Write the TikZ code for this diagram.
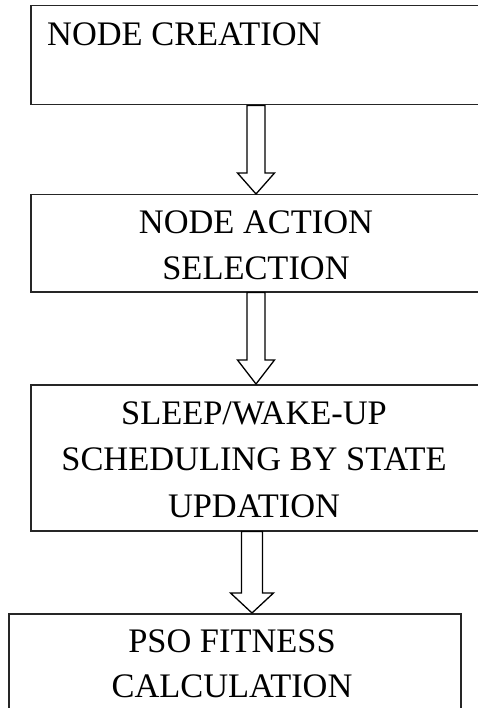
\documentclass[tikz,border=0pt]{standalone}
\usepackage{fontspec}
\setmainfont{Liberation Serif}
\usetikzlibrary{calc}
\tikzset{
  box/.style={draw=black!85, line width=1.5pt, fill=none, inner sep=0pt, anchor=north west},
  lbl/.style={inner sep=0pt, anchor=base, font=\fontsize{34.4}{45}\selectfont},
  blockarr/.style={draw=black, line width=1.3pt, fill=white, line join=miter}
}
\newcommand\hollowarrow[6]{% from, to, x, shaft half, head half, head length
  \draw[blockarr] let \p1=(#1.south), \p2=(#2.north) in
    ({#3pt-#4pt},\y1) -- ({#3pt-#4pt},{\y2+#6pt}) -- ({#3pt-#5pt},{\y2+#6pt})
    -- (#3pt,\y2) -- ({#3pt+#5pt},{\y2+#6pt}) -- ({#3pt+#4pt},{\y2+#6pt})
    -- ({#3pt+#4pt},\y1) -- cycle;
}
\begin{document}
\begin{tikzpicture}[x=1pt,y=-1pt]
\fill[white] (0,0) rectangle (477,708);
\useasboundingbox (0,0) rectangle (477,708);
\node[box, minimum width=470pt, minimum height=99pt] (b1) at (30,5) {};
\node[box, minimum width=470pt, minimum height=97pt] (b2) at (30,194) {};
\node[box, minimum width=470pt, minimum height=146pt] (b3) at (30,384) {};
\node[box, minimum width=452pt, minimum height=120pt] (b4) at (8,613) {};
\node[lbl, anchor=base west] (t1) at (47,46) {NODE CREATION};
\node[lbl] (t2a) at (256,234) {NODE ACTION};
\node[lbl] (t2b) at (256,279) {SELECTION};
\node[lbl] (t3a) at (254,424) {SLEEP/WAKE-UP};
\node[lbl] (t3b) at (254,470) {SCHEDULING BY STATE};
\node[lbl] (t3c) at (254,517) {UPDATION};
\node[lbl] (t4a) at (232,652) {PSO FITNESS};
\node[lbl] (t4b) at (232,697) {CALCULATION};
\hollowarrow{b1}{b2}{256}{9}{18.5}{21}
\hollowarrow{b2}{b3}{256}{9}{18.5}{24}
\hollowarrow{b3}{b4}{252}{10.5}{21.5}{20}
\end{tikzpicture}
\end{document}
